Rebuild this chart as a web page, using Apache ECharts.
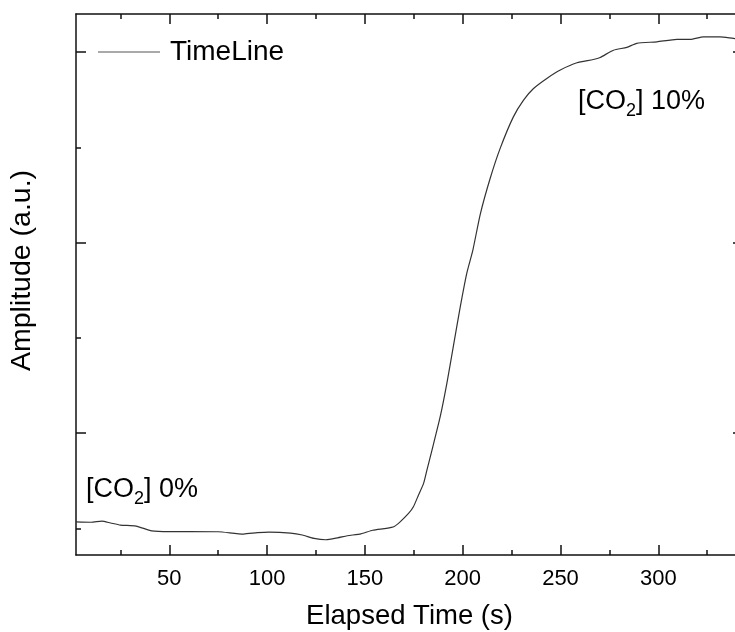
<!DOCTYPE html>
<html>
<head>
<meta charset="utf-8">
<script src="https://cdn.jsdelivr.net/npm/echarts@6/dist/echarts.min.js"></script>
<style>
  html, body { margin: 0; padding: 0; background: #fff; }
  #chart { width: 735px; height: 632px; }
</style>
</head>
<body>
<div id="chart"></div>
<script>
  // elapsed time (s) and amplitude (a.u., arbitrary scale)
  const timeSec = [2.3, 10, 15.5, 20, 25, 33, 41, 50, 60, 75, 88, 95, 101, 112, 118, 124, 130, 136, 141, 148,
    154, 161, 165, 168, 172.3, 174.8, 177.4, 180, 181.7, 184.3, 188.5, 191.9, 195.3, 198.7, 202.1, 205.2,
    209, 214.1, 219.2, 225.9, 231.1, 236.2, 243, 249.9, 258.4, 266.8, 270.3, 277.1, 283.9, 289, 299.3,
    309.5, 316.3, 323.1, 331.6, 338.4, 343.3];
  const amplitude = [-0.466, -0.468, -0.462, -0.472, -0.483, -0.488, -0.513, -0.517, -0.517, -0.518, -0.530,
    -0.523, -0.520, -0.525, -0.535, -0.553, -0.560, -0.550, -0.539, -0.529, -0.510, -0.500, -0.490, -0.466,
    -0.422, -0.387, -0.325, -0.264, -0.194, -0.089, 0.086, 0.261, 0.46, 0.66, 0.84, 0.961, 1.150, 1.339,
    1.496, 1.660, 1.748, 1.809, 1.862, 1.906, 1.944, 1.961, 1.972, 2.010, 2.025, 2.046, 2.054, 2.067,
    2.067, 2.080, 2.080, 2.072, 2.068];

  const xMajorTicks = [50, 100, 150, 200, 250, 300];
  const xMinorTicks = [25, 75, 125, 175, 225, 275, 325];
  const yMajorTicks = [0, 1, 2];
  const yMinorTicks = [-0.5, 0.5, 1.5];

  const FONT = 'Liberation Sans, Arial, sans-serif';
  const X_MIN = 2.3, X_MAX = 343.3;
  const Y_MIN = -0.64, Y_MAX = 2.2;

  // one axis per tick set (major / minor), all sharing the same range
  function xAx(pos, ticks, len, first) {
    return {
      type: 'value', position: pos, min: X_MIN, max: X_MAX,
      name: first && pos === 'bottom' ? 'Elapsed Time (s)' : '',
      nameLocation: 'middle', nameGap: 47,
      nameTextStyle: { fontSize: 27.5, color: '#000', fontFamily: FONT },
      axisLine: { show: first, onZero: false, lineStyle: { color: '#111', width: 1.5 } },
      axisTick: { show: true, inside: true, length: len, customValues: ticks, lineStyle: { color: '#111', width: 1.5 } },
      axisLabel: { show: first && pos === 'bottom', customValues: ticks, margin: 13, fontSize: 22, color: '#000', fontFamily: FONT },
      splitLine: { show: false }
    };
  }
  function yAx(pos, ticks, len, first) {
    return {
      type: 'value', position: pos, min: Y_MIN, max: Y_MAX,
      name: first && pos === 'left' ? 'Amplitude (a.u.)' : '',
      nameLocation: 'middle', nameGap: 39,
      nameTextStyle: { fontSize: 28.5, color: '#000', fontFamily: FONT, padding: [0, 0, 0, 28] },
      axisLine: { show: first, onZero: false, lineStyle: { color: '#111', width: 1.5 } },
      axisTick: { show: true, inside: true, length: len, customValues: ticks, lineStyle: { color: '#111', width: 1.5 } },
      axisLabel: { show: false },
      splitLine: { show: false }
    };
  }

  const chart = echarts.init(document.getElementById('chart'), null, { renderer: 'canvas' });
  chart.setOption({
    animation: false,
    backgroundColor: '#fff',
    grid: { left: 76, right: -8, top: 14, bottom: 77, outerBoundsMode: 'none', containLabel: false },
    legend: {
      left: 98, top: 38, padding: 0,
      icon: 'rect', itemWidth: 62, itemHeight: 1.2,
      itemStyle: { color: '#555' },
      textStyle: { fontSize: 28, color: '#000', fontFamily: FONT, padding: [0, 0, 0, 5] },
      data: ['TimeLine']
    },
    xAxis: [
      xAx('bottom', xMajorTicks, 10, true),
      xAx('bottom', xMinorTicks, 5, false),
      xAx('top', xMajorTicks, 10, true),
      xAx('top', xMinorTicks, 5, false)
    ],
    yAxis: [
      yAx('left', yMajorTicks, 10, true),
      yAx('left', yMinorTicks, 5, false),
      yAx('right', yMajorTicks, 10, true),
      yAx('right', yMinorTicks, 5, false)
    ],
    graphic: [
      {
        type: 'text', left: 86, top: 476,
        style: {
          text: '{a|[CO}{s|2}{a|] 0%}',
          rich: {
            a: { fontSize: 27, fontFamily: FONT, fill: '#000', lineHeight: 30 },
            s: { fontSize: 18, fontFamily: FONT, fill: '#000', verticalAlign: 'top', padding: [19, 0, 0, 0] }
          }
        }
      },
      {
        type: 'text', left: 578, top: 88,
        style: {
          text: '{a|[CO}{s|2}{a|] 10%}',
          rich: {
            a: { fontSize: 27, fontFamily: FONT, fill: '#000', lineHeight: 30 },
            s: { fontSize: 18, fontFamily: FONT, fill: '#000', verticalAlign: 'top', padding: [19, 0, 0, 0] }
          }
        }
      }
    ],
    series: [{
      name: 'TimeLine',
      type: 'line',
      xAxisIndex: 0, yAxisIndex: 0,
      data: timeSec.map((t, i) => [t, amplitude[i]]),
      symbol: 'none',
      smooth: 0.2,
      lineStyle: { color: '#333', width: 1.2 },
      itemStyle: { color: '#333' }
    }]
  });
</script>
</body>
</html>
